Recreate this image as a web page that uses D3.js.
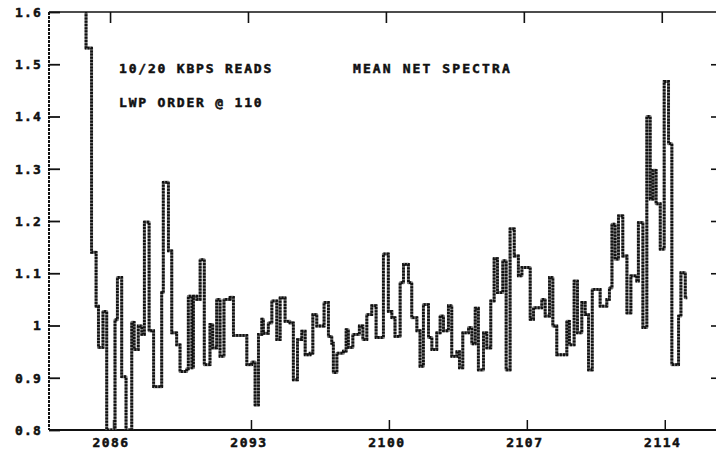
<!DOCTYPE html>
<html><head><meta charset="utf-8">
<script src="https://cdn.jsdelivr.net/npm/d3@7"></script>
<style>
html,body{margin:0;padding:0;background:#fff;}
svg{display:block;}
text{font-family:"DejaVu Sans Mono",monospace;font-weight:bold;fill:#111;stroke:#111;stroke-width:0.5px;}
</style></head>
<body>
<script>
// step start positions (x units) and level values
const stepX = [
 2084.53, 2084.63, 2084.91, 2085.14, 2085.26, 2085.49, 2085.68, 2086.10, 2086.22, 2086.44,
 2086.66, 2086.95, 2087.07, 2087.28, 2087.46, 2087.59, 2087.83, 2088.06, 2088.47, 2088.55,
 2088.81, 2088.98, 2089.23, 2089.40, 2089.74, 2089.82, 2090.00, 2090.08, 2090.25, 2090.42,
 2090.63, 2090.92, 2091.06, 2091.26, 2091.43, 2091.63, 2091.94, 2092.11, 2092.79, 2093.04,
 2093.21, 2093.38, 2093.55, 2093.63, 2093.88, 2094.06, 2094.31, 2094.48, 2094.73, 2094.98,
 2095.15, 2095.36, 2095.58, 2095.75, 2096.00, 2096.14, 2096.34, 2096.71, 2096.93, 2097.10,
 2097.18, 2097.36, 2097.69, 2097.83, 2097.94, 2098.17, 2098.50, 2098.68, 2098.88, 2099.13,
 2099.35, 2099.72, 2099.97, 2100.15, 2100.31, 2100.57, 2100.74, 2100.99, 2101.16, 2101.42,
 2101.58, 2101.75, 2102.01, 2102.18, 2102.43, 2102.60, 2102.77, 2103.02, 2103.19, 2103.45,
 2103.58, 2103.75, 2104.04, 2104.21, 2104.38, 2104.54, 2104.80, 2104.97, 2105.17, 2105.34,
 2105.51, 2105.78, 2105.95, 2106.15, 2106.36, 2106.57, 2106.75, 2107.17, 2107.34, 2107.76,
 2107.93, 2108.15, 2108.32, 2108.52, 2109.03, 2109.16, 2109.40, 2109.57, 2109.79, 2109.96,
 2110.13, 2110.32, 2110.72, 2111.06, 2111.19, 2111.32, 2111.48, 2111.65, 2111.87, 2112.08,
 2112.28, 2112.58, 2112.66, 2112.89, 2113.09, 2113.26, 2113.40, 2113.56, 2113.77, 2113.97,
 2114.19, 2114.36, 2114.70, 2114.82, 2115.04, 2115.14
];
const stepY = [
 1.80, 1.531, 1.140, 1.037, 0.958, 1.027, 0.80, 1.011, 1.092, 0.902,
 0.80, 1.006, 0.954, 0.999, 0.983, 1.198, 0.990, 0.883, 1.063, 1.274,
 1.143, 0.986, 0.963, 0.912, 0.917, 1.056, 0.919, 1.056, 1.050, 1.126,
 0.925, 1.002, 0.957, 1.050, 0.941, 1.050, 1.054, 0.981, 0.925, 0.930,
 0.848, 0.983, 1.012, 0.985, 1.005, 1.047, 0.973, 1.053, 1.008, 1.005,
 0.896, 0.973, 0.989, 0.944, 0.947, 1.021, 0.999, 1.044, 0.979, 0.966,
 0.910, 0.947, 0.951, 0.992, 0.958, 0.983, 0.999, 0.973, 1.021, 1.038,
 0.977, 1.137, 1.027, 1.015, 0.979, 1.082, 1.117, 1.082, 1.015, 0.990,
 0.922, 1.040, 0.977, 0.954, 0.986, 1.018, 0.990, 1.038, 0.941, 0.950,
 0.919, 0.986, 0.996, 0.965, 1.033, 0.915, 0.986, 0.957, 1.047, 1.128,
 1.063, 1.124, 0.915, 1.185, 1.133, 1.095, 1.111, 1.012, 1.034, 1.050,
 1.018, 1.092, 0.999, 0.944, 1.008, 0.963, 1.085, 0.986, 1.044, 1.021,
 0.915, 1.069, 1.037, 1.050, 1.072, 1.194, 1.127, 1.210, 1.133, 1.024,
 1.095, 1.085, 1.197, 0.996, 1.400, 1.242, 1.297, 1.233, 1.146, 1.467,
 1.348, 0.925, 1.018, 1.101, 1.053, 1.053
];
const xTicks = [2086, 2093, 2100, 2107, 2114];
const yTicks = [0.8, 0.9, 1.0, 1.1, 1.2, 1.3, 1.4, 1.5, 1.6];
const titleLeft = "10/20 KBPS READS";
const titleRight = "MEAN NET SPECTRA";
const subtitle = "LWP ORDER @ 110";

(function () {
const W = 716, H = 450;
const pL = 49, pR = 716, pT = 12, pB = 430;
const x = d3.scaleLinear().domain([2082.75, 2116.6]).range([pL, pR]);
const y = d3.scaleLinear().domain([0.8, 1.6]).range([pB, pT]);

const svg = d3.select("body").append("svg").attr("width", W).attr("height", H);
svg.append("defs").append("clipPath").attr("id", "plot")
  .append("rect").attr("x", pL).attr("y", pT).attr("width", pR - pL).attr("height", pB - pT);

// frame lines
svg.append("line").attr("x1", pL).attr("x2", pR).attr("y1", pT).attr("y2", pT)
  .attr("stroke", "#111").attr("stroke-width", 1.6);
svg.append("line").attr("x1", pL).attr("x2", pR).attr("y1", pB).attr("y2", pB)
  .attr("stroke", "#111").attr("stroke-width", 1.8);
svg.append("line").attr("x1", pL).attr("x2", pL).attr("y1", pT).attr("y2", pB)
  .attr("stroke", "#111").attr("stroke-width", 2).attr("stroke-dasharray", "3,1");

// left axis (ticks pointing inward)
const yAxis = d3.axisRight(y).tickValues(yTicks).tickSize(11).tickFormat("");
const ya = svg.append("g").attr("transform", `translate(${pL},0)`).call(yAxis);
ya.select(".domain").remove();
ya.selectAll("line").attr("stroke", "#111").attr("stroke-width", 1.8);
svg.append("g").selectAll("text").data(yTicks).join("text")
  .attr("x", 42).attr("y", d => y(d)).attr("dy", "0.38em")
  .attr("text-anchor", "end").attr("font-size", 13).attr("letter-spacing", 1.2)
  .text(d => d === 1 ? "1" : d3.format(".1f")(d));

// right side ticks
const yRight = d3.axisLeft(y).tickValues(yTicks.filter(d => d > 0.8 && d < 1.6)).tickSize(5).tickFormat("");
const yr = svg.append("g").attr("transform", `translate(${pR},0)`).call(yRight);
yr.select(".domain").remove();
yr.selectAll("line").attr("stroke", "#111").attr("stroke-width", 1.6);

// bottom ticks
const xAxisB = d3.axisTop(x).tickValues(xTicks).tickSize(10).tickFormat("");
const xb = svg.append("g").attr("transform", `translate(0,${pB})`).call(xAxisB);
xb.select(".domain").remove();
xb.selectAll("line").attr("stroke", "#111").attr("stroke-width", 1.5);
svg.append("g").selectAll("text").data(xTicks).join("text")
  .attr("x", d => x(d) - 2).attr("y", 447)
  .attr("text-anchor", "middle").attr("font-size", 13).attr("letter-spacing", 1.5)
  .text(d => String(d));

// top ticks
const xAxisT = d3.axisBottom(x).tickValues(xTicks).tickSize(11).tickFormat("");
const xt = svg.append("g").attr("transform", `translate(-3,${pT})`).call(xAxisT);
xt.select(".domain").remove();
xt.selectAll("line").attr("stroke", "#111").attr("stroke-width", 1.6);

// step line
const pts = stepX.map((v, i) => [v, stepY[i]]);
const line = d3.line().x(d => x(d[0])).y(d => y(d[1])).curve(d3.curveStepAfter);
const g = svg.append("g").attr("clip-path", "url(#plot)");
g.append("path").datum(pts).attr("d", line).attr("fill", "none")
  .attr("stroke", "#777").attr("stroke-width", 3).attr("stroke-linejoin", "round");
g.append("path").datum(pts).attr("d", line).attr("fill", "none")
  .attr("stroke", "#111").attr("stroke-width", 2.8).attr("stroke-dasharray", "2,1.2");

// annotations
svg.append("text").attr("x", 119).attr("y", 73).attr("font-size", 13).attr("letter-spacing", 1.8).text(titleLeft);
svg.append("text").attr("x", 353).attr("y", 73).attr("font-size", 13).attr("letter-spacing", 2.1).text(titleRight);
svg.append("text").attr("x", 119).attr("y", 107).attr("font-size", 13).attr("letter-spacing", 1.8).text(subtitle);
})();
</script>
</body></html>
